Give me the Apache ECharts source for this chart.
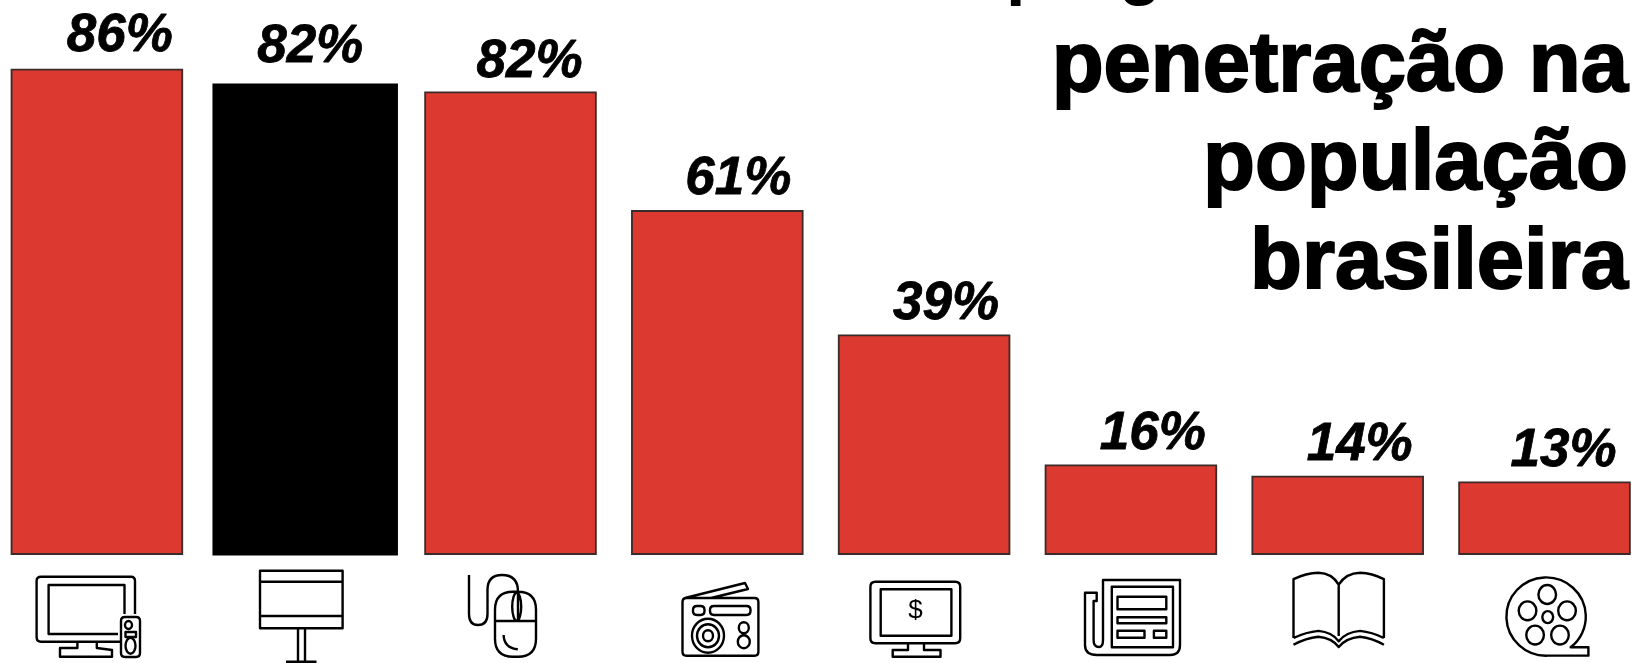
<!DOCTYPE html>
<html>
<head>
<meta charset="utf-8">
<style>html,body{margin:0;padding:0;background:#fff}#chart{width:1634px;height:663px}</style>
<script src="https://cdn.jsdelivr.net/npm/echarts@6/dist/echarts.min.js"></script>
</head>
<body>
<div id="chart"></div>
<script>
// Penetração de cada meio na população brasileira (%)
const midias = ['TV', 'Out of Home', 'Internet', 'Rádio', 'TV por assinatura', 'Jornal', 'Revista', 'Cinema'];
const penetracao = [86, 82, 82, 61, 39, 16, 14, 13];
const destaque = 'Out of Home';
const tituloLinhas = ['penetração na', 'população', 'brasileira'];

const VERMELHO = '#dc3a30';
const ROTULO = { fontFamily: 'Liberation Sans', fontStyle: 'italic', fontWeight: 'bold', fontSize: 53, color: '#000', textBorderColor: '#000', textBorderWidth: 0.8 };

// deslocamento de cada rótulo em relação ao topo e ao centro da barra
const desvioRotulo = [[23, 0], [5, -4], [19, 3], [21, 2], [22, 2], [22, 2], [22, 2], [19, 2]];

function rotulo(i) {
  return { show: true, position: 'top', distance: 6, offset: desvioRotulo[i], formatter: '{c}%', ...ROTULO };
}

const serieComum = midias.map((m, i) => m === destaque ? null : { value: penetracao[i], label: rotulo(i) });
const serieDestaque = midias.map((m, i) => m === destaque ? { value: penetracao[i], label: rotulo(i) } : null);

// Ícones de linha sob cada barra
const oval = (cx, cy, rx, ry) => `M${cx - rx} ${cy}A${rx} ${ry} 0 1 1 ${cx + rx} ${cy}A${rx} ${ry} 0 1 1 ${cx - rx} ${cy}Z`;
const caixa = (x0, y0, x1, y1, r = 0) => r
  ? `M${x0 + r} ${y0}L${x1 - r} ${y0}Q${x1} ${y0} ${x1} ${y0 + r}L${x1} ${y1 - r}Q${x1} ${y1} ${x1 - r} ${y1}L${x0 + r} ${y1}Q${x0} ${y1} ${x0} ${y1 - r}L${x0} ${y0 + r}Q${x0} ${y0} ${x0 + r} ${y0}Z`
  : `M${x0} ${y0}L${x1} ${y0}L${x1} ${y1}L${x0} ${y1}Z`;

const icones = [
  { box: [36.6, 576.7, 103.4, 80.3], d:
    'M135 614L135 581Q135 576.7 131 576.7L41 576.7Q36.6 576.7 36.6 581L36.6 637Q36.6 641.7 41 641.7L121 641.7' +
    'M124.5 614L124.5 585L48.6 585L48.6 634L118 634' +
    'M77.4 641.7L77.4 648L60 648L60 656.7L112 656.7L112 650L96.8 648L96.8 641.7' +
    caixa(121, 617, 140, 657, 4) + oval(128.5, 625, 3.5, 4) + caixa(125.5, 632, 136, 637) + oval(130.5, 645.7, 5, 8) },
  { box: [260, 570.7, 82.6, 91], d:
    caixa(260, 570.7, 342.6, 628.3) + 'M260 581.7L342.6 581.7M260 616L342.6 616' +
    'M298 628.3L298 661.7M305 628.3L305 661.7M286 661.7L316.5 661.7' },
  { box: [469, 575, 67, 81.7], d:
    'M469 575L469 614Q469 625 478 625Q487.5 625 487.5 614L487.5 590Q487.5 575 502 575Q518 575 518 591.7L518 621' +
    caixa(495, 591.7, 536, 656.7, 18) + 'M495 621L536 621' + oval(516.7, 606.7, 4.5, 14) +
    'M503.6 635Q504 648 517.8 649.3' },
  { box: [682.5, 583, 75.9, 72.7], d:
    caixa(682.5, 598, 758.4, 655.7, 4) +
    'M685 598L745 583L748 589L711 598' +
    caixa(693, 606, 704.5, 615, 4) + caixa(710, 606, 750.5, 615, 4) +
    oval(708, 635.7, 16, 17) + oval(708, 635.7, 11, 11.5) + oval(708, 635.7, 5, 5.5) +
    oval(743.8, 627.7, 5, 5.5) + oval(743.8, 641.7, 6, 6.5) },
  { box: [870.4, 581.7, 89.8, 75], d:
    caixa(870.4, 581.7, 960.2, 643.3, 5) + caixa(880.7, 589.3, 951.4, 635.7) +
    'M908 643.3L908 650L892.7 650L892.7 656.7L940.5 656.7L940.5 650L924 650L924 643.3' },
  { box: [1085, 580, 95, 75], d:
    'M1103 580L1180 580L1180 645Q1180 655 1170 655L1097 655Q1085 655 1085 645L1085 592.7L1096.7 592.7L1096.7 601L1093.6 601L1093.6 640Q1093.6 647 1099 647Q1103 647 1103 640Z' +
    caixa(1111.8, 586.7, 1173, 647.3) + caixa(1117.5, 596.7, 1166.3, 609.3) + caixa(1117.5, 617.3, 1166.3, 623.3) +
    caixa(1117.5, 630.7, 1144.5, 637.7) + caixa(1153.9, 630.7, 1166.3, 637.7) },
  { box: [1293.5, 572.7, 90.4, 74.3], d:
    'M1293.5 640L1293.5 579.3Q1306 573 1318.4 572.7Q1332 573 1338.7 585Q1346 573 1360 572.7Q1372 573 1383.9 579.3L1383.9 640' +
    'M1338.7 585L1338.7 638' +
    'M1293.5 640Q1306 634 1318.4 632.7Q1332 634 1338.7 643.3Q1346 634 1360 632.7Q1372 634 1383.9 640' +
    'M1293.5 647Q1306 640 1318.4 638.7Q1332 640 1338.7 649.3Q1346 640 1360 638.7Q1372 640 1383.9 647' },
  { box: [1506.4, 577.4, 82, 78.3], d:
    'M1570.3 647.3L1588.4 647.3L1588.4 655.7L1546.9 655.7A40.5 39.3 0 1 1 1570.3 647.3Z' +
    oval(1546.9, 617, 5.5, 6) + oval(1546.4, 594.3, 9, 9.5) + oval(1526.3, 610.7, 9, 9.5) +
    oval(1566.6, 610.7, 9, 9.5) + oval(1534, 635, 9, 9.5) + oval(1559.4, 635, 9, 9.5) }
];

function desenhaIcone(params) {
  const ic = icones[params.dataIndex];
  return {
    type: 'path',
    shape: { pathData: ic.d, x: ic.box[0], y: ic.box[1], width: ic.box[2], height: ic.box[3], layout: 'cover' },
    style: { fill: 'none', stroke: '#000', lineWidth: 2.4, lineJoin: 'round' },
    silent: true
  };
}

const textos = [{ type: 'text', x: 915.5, y: 611, style: { text: '$', fill: '#000', font: '26px "Liberation Sans"', align: 'center', verticalAlign: 'middle' } }];

// Título alinhado à direita; a primeira linha fica cortada pela borda superior
const fonteTitulo = { fill: '#000', stroke: '#000', lineWidth: 2, font: 'bold 85px "Liberation Sans"', verticalAlign: 'bottom' };
textos.push({ type: 'text', x: 1006, y: 7, style: { text: 'programa', align: 'left', fill: '#000', font: 'bold 70px "Liberation Sans"', verticalAlign: 'bottom' } });
tituloLinhas.forEach((t, i) => {
  textos.push({ type: 'text', x: 1628, y: [110, 208, 307][i], style: { text: t, align: 'right', ...fonteTitulo } });
});

// Eixo sem folga nas pontas: cada categoria cai exatamente na posição da sua barra
const eixoX = gridIndex => ({ type: 'category', gridIndex, boundaryGap: false, data: midias, axisLine: { show: false }, axisTick: { show: false }, axisLabel: { show: false } });

const chart = echarts.init(document.getElementById('chart'), null, { renderer: 'canvas' });
chart.setOption({
  animation: false,
  backgroundColor: '#fff',
  grid: [
    { left: 96.9, width: 1447.6, top: 46.2, height: 508.7 },
    { left: 98.4, width: 1447.6, top: 37.4, height: 518 }
  ],
  xAxis: [eixoX(0), eixoX(1)],
  yAxis: [
    { type: 'value', gridIndex: 0, min: 0, max: 90, show: false },
    { type: 'value', gridIndex: 1, min: 0, max: 90, show: false }
  ],
  series: [
    {
      type: 'bar', name: 'Penetração', xAxisIndex: 0, yAxisIndex: 0, barWidth: 172.5, clip: false, data: serieComum,
      itemStyle: { color: VERMELHO, borderColor: '#3a2a28', borderWidth: 1.8 }
    },
    {
      type: 'bar', name: 'Penetração (destaque)', xAxisIndex: 1, yAxisIndex: 1, barWidth: 185.5, clip: false, data: serieDestaque,
      itemStyle: { color: '#000' }
    },
    {
      type: 'custom', name: 'Ícones', coordinateSystem: 'none', data: midias, renderItem: desenhaIcone, silent: true
    }
  ],
  graphic: { elements: textos }
});
</script>
</body>
</html>
